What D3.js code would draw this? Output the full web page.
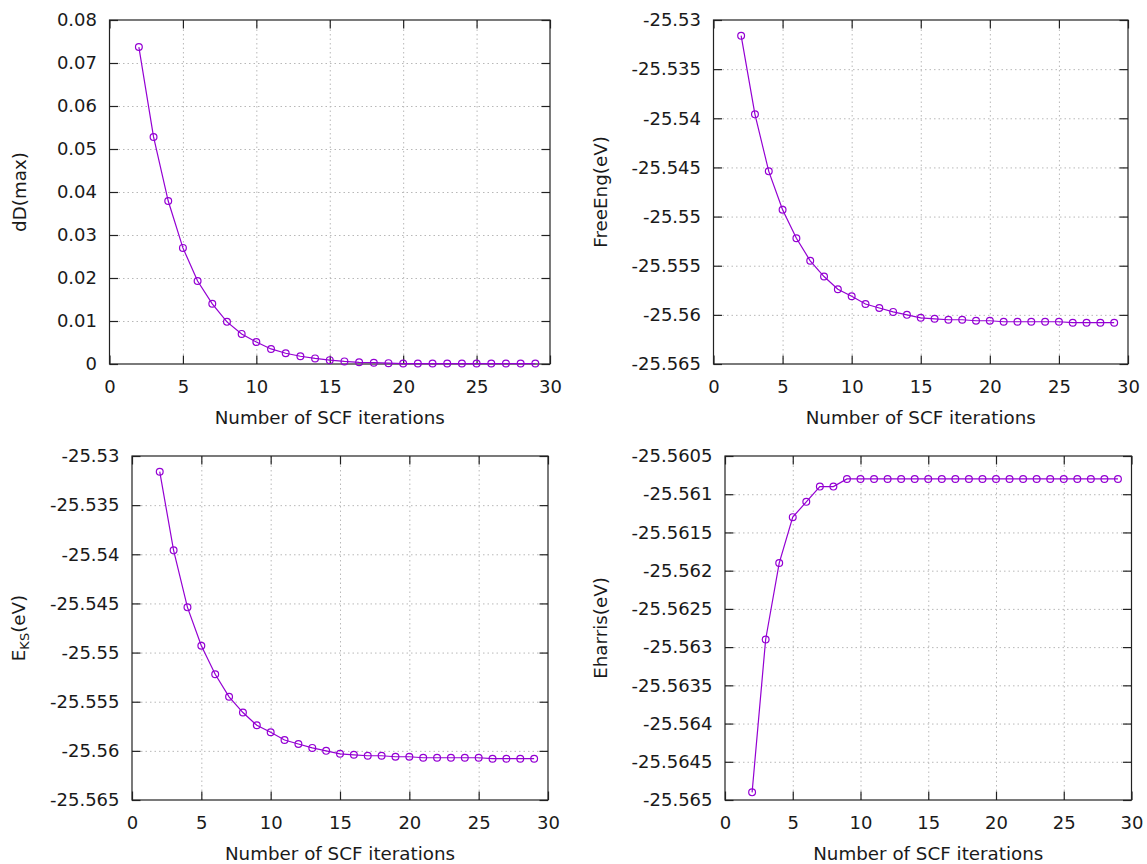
<!DOCTYPE html>
<meta charset="utf-8">
<style>
body { margin: 0; background: #fff; }
svg { display: block; font-family: "DejaVu Sans", sans-serif; }
.tick text { font-family: "DejaVu Sans", sans-serif; font-size: 18px; fill: #1a1a1a; }
.grid line { stroke: #b8b8b8; stroke-dasharray: 1.5,3; }
.lbl { font-size: 18.3px; fill: #1a1a1a; }
</style>
<svg id="chart" width="1147" height="864"></svg>
<script src="https://cdn.jsdelivr.net/npm/d3@7"></script>
<script>
// SCF convergence data, iterations 2..29
var iterations = [2,3,4,5,6,7,8,9,10,11,12,13,14,15,16,17,18,19,20,21,22,23,24,25,26,27,28,29];

var dDmax = [0.0737,0.0528,0.0379,0.0270,0.0193,0.0140,0.0098,0.0070,0.0051,0.0035,0.0025,0.0018,0.0013,0.0009,
             0.0006,0.0004,0.0003,0.0002,0.0001,0.0001,0.0001,0.0001,0.0001,0.0001,0.0001,0.0001,0.0001,0.0001];

var freeEng = [-25.5316,-25.5396,-25.5454,-25.5493,-25.5522,-25.5545,-25.5561,-25.5574,-25.5581,-25.5589,-25.5593,-25.5597,-25.5600,-25.5603,
               -25.5604,-25.5605,-25.5605,-25.5606,-25.5606,-25.5607,-25.5607,-25.5607,-25.5607,-25.5607,-25.5608,-25.5608,-25.5608,-25.5608];

var eKS = [-25.5316,-25.5396,-25.5454,-25.5493,-25.5522,-25.5545,-25.5561,-25.5574,-25.5581,-25.5589,-25.5593,-25.5597,-25.5600,-25.5603,
           -25.5604,-25.5605,-25.5605,-25.5606,-25.5606,-25.5607,-25.5607,-25.5607,-25.5607,-25.5607,-25.5608,-25.5608,-25.5608,-25.5608];

var eHarris = [-25.5649,-25.5629,-25.5619,-25.5613,-25.5611,-25.5609,-25.5609,-25.5608,-25.5608,-25.5608,-25.5608,-25.5608,-25.5608,-25.5608,
               -25.5608,-25.5608,-25.5608,-25.5608,-25.5608,-25.5608,-25.5608,-25.5608,-25.5608,-25.5608,-25.5608,-25.5608,-25.5608,-25.5608];

var xTicks = [0,5,10,15,20,25,30];
var dDTicks = [0,0.01,0.02,0.03,0.04,0.05,0.06,0.07,0.08];
var dDLabels = ["0","0.01","0.02","0.03","0.04","0.05","0.06","0.07","0.08"];
var engTicks = [-25.565,-25.56,-25.555,-25.55,-25.545,-25.54,-25.535,-25.53];
var engLabels = ["-25.565","-25.56","-25.555","-25.55","-25.545","-25.54","-25.535","-25.53"];
var harTicks = [-25.565,-25.5645,-25.564,-25.5635,-25.563,-25.5625,-25.562,-25.5615,-25.561,-25.5605];
var harLabels = ["-25.565","-25.5645","-25.564","-25.5635","-25.563","-25.5625","-25.562","-25.5615","-25.561","-25.5605"];

var xLabel = "Number of SCF iterations";
var color = "#9400d3";

// panel layout (plot frame in page pixels)
var panels = [
  {x0: 109.5, x1: 550,  y0: 20,  y1: 364, values: dDmax,   ticks: dDTicks, labels: dDLabels,  ylab: "dD(max)",     labX: 20},
  {x0: 713.5, x1: 1128, y0: 20,  y1: 364, values: freeEng, ticks: engTicks, labels: engLabels, ylab: "FreeEng(eV)", labX: 601},
  {x0: 132,   x1: 548,  y0: 456, y1: 800, values: eKS,     ticks: engTicks, labels: engLabels, ylab: "KS",          labX: 19},
  {x0: 725,   x1: 1131.5, y0: 456, y1: 800, values: eHarris, ticks: harTicks, labels: harLabels, ylab: "Eharris(eV)", labX: 601}
];

var svg = d3.select("#chart");

panels.forEach(function(p) {
  var x = d3.scaleLinear().domain([0, 30]).range([p.x0, p.x1]);
  var y = d3.scaleLinear().domain([p.ticks[0], p.ticks[p.ticks.length - 1]]).range([p.y1, p.y0]);
  var w = p.x1 - p.x0, h = p.y1 - p.y0;
  var g = svg.append("g");

  // dotted grid
  g.append("g").attr("class", "grid")
    .attr("transform", "translate(0," + p.y1 + ")")
    .call(d3.axisBottom(x).tickValues(xTicks.slice(1, -1)).tickSize(-h).tickFormat(""))
    .call(function(s) { s.select(".domain").remove(); });
  g.append("g").attr("class", "grid")
    .attr("transform", "translate(" + p.x0 + ",0)")
    .call(d3.axisLeft(y).tickValues(p.ticks.slice(1, -1)).tickSize(-w).tickFormat(""))
    .call(function(s) { s.select(".domain").remove(); });

  // axes with inward ticks, mirrored on top/right
  var tk = 8.5;
  g.append("g")
    .attr("transform", "translate(0," + p.y1 + ")")
    .call(d3.axisBottom(x).tickValues(xTicks).tickSize(-tk).tickPadding(16))
    .call(function(s) { s.select(".domain").remove(); });
  g.append("g")
    .attr("transform", "translate(0," + p.y0 + ")")
    .call(d3.axisTop(x).tickValues(xTicks).tickSize(-tk).tickFormat(""))
    .call(function(s) { s.select(".domain").remove(); });
  g.append("g")
    .attr("transform", "translate(" + p.x0 + ",0)")
    .call(d3.axisLeft(y).tickValues(p.ticks).tickSize(-tk).tickPadding(12.5)
      .tickFormat(function(d, i) { return p.labels[i]; }))
    .call(function(s) { s.select(".domain").remove(); });
  g.append("g")
    .attr("transform", "translate(" + p.x1 + ",0)")
    .call(d3.axisRight(y).tickValues(p.ticks).tickSize(-tk).tickFormat(""))
    .call(function(s) { s.select(".domain").remove(); });
  g.selectAll(".tick line").filter(function() { return !this.parentNode.parentNode.classList.contains("grid"); })
    .attr("stroke", "#222").attr("stroke-width", 1.2);
  g.selectAll(".tick text").attr("fill", "#1a1a1a");

  // frame
  g.append("rect")
    .attr("x", p.x0).attr("y", p.y0).attr("width", w).attr("height", h)
    .attr("fill", "none").attr("stroke", "#222").attr("stroke-width", 1.2);

  // data line + circle markers
  var pts = iterations.map(function(it, i) { return [it, p.values[i]]; });
  g.append("path")
    .datum(pts)
    .attr("fill", "none").attr("stroke", color).attr("stroke-width", 1.2)
    .attr("d", d3.line().x(function(d) { return x(d[0]); }).y(function(d) { return y(d[1]); }));
  g.selectAll("circle").data(pts).enter().append("circle")
    .attr("cx", function(d) { return x(d[0]); })
    .attr("cy", function(d) { return y(d[1]); })
    .attr("r", 3.4)
    .attr("fill", "none").attr("stroke", color).attr("stroke-width", 1.2);

  // axis titles
  g.append("text").attr("class", "lbl")
    .attr("x", (p.x0 + p.x1) / 2).attr("y", p.y1 + 60)
    .attr("text-anchor", "middle").text(xLabel);
  var yl = g.append("text").attr("class", "lbl")
    .attr("transform", "translate(" + p.labX + "," + (p.y0 + p.y1) / 2 + ") rotate(-90)")
    .attr("dy", "0.35em").attr("text-anchor", "middle");
  if (p.ylab === "KS") {
    yl.append("tspan").text("E");
    yl.append("tspan").attr("font-size", "13px").attr("dy", "4").text("KS");
    yl.append("tspan").attr("dy", "-4").text("(eV)");
  } else {
    yl.text(p.ylab);
  }
});
</script>
